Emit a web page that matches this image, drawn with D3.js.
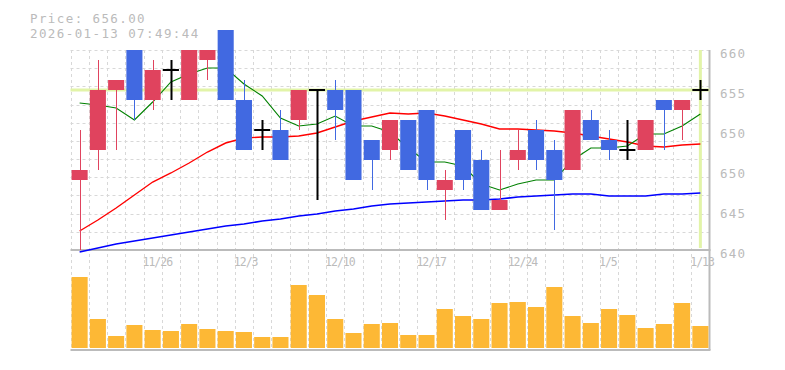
<!DOCTYPE html>
<html>
<head>
<meta charset="utf-8">
<script src="https://cdn.jsdelivr.net/npm/d3@7"></script>
<style>
  body { margin: 0; background: #fff; }
  svg { display: block; }
  text { font-family: "DejaVu Sans Mono", monospace; fill: #bbb; }
</style>
</head>
<body>
<svg id="chart" width="785" height="370"></svg>
<script>
// daily candles, last 35 sessions
var dates = ["11/19","11/20","11/21","11/25","11/26","11/27","11/28","12/1","12/2","12/3",
  "12/4","12/5","12/8","12/9","12/10","12/11","12/12","12/15","12/16","12/17",
  "12/18","12/19","12/22","12/23","12/24","12/25","12/26","12/29","12/30","1/5",
  "1/6","1/7","1/8","1/9","1/13"];
var open  = [647,650,656,660,655,658,655,659,662,655,652,652,653,656,656,656,651,650,653,654,646,652,649,644,649,652,650,648,653,651,650,650,655,654,656];
var close = [648,656,657,655,658,658,660,660,655,650,652,649,656,656,654,647,649,653,648,647,647,647,644,645,650,649,647,654,651,650,650,653,654,655,656];
var high  = [652,659,657,660,659,659,660,660,662,657,653,654,656,656,657,656,651,653,653,654,648,652,650,650,652,653,651,654,654,652,653,653,655,655,657];
var low   = [640,648,650,653,654,655,655,657,655,650,650,649,652,645,651,647,646,649,648,646,643,646,644,644,648,648,642,648,651,649,649,650,650,651,655];
var volume = [71,29,12,23,18,17,24,19,17,16,11,11,63,53,29,15,24,25,13,13,39,32,29,45,46,41,61,32,25,39,33,20,24,45,22];

// moving averages
var ma5  = [654.7,654.5,654.2,653.0,654.8,656.8,657.6,658.2,658.2,656.6,655.4,653.2,652.4,652.6,653.4,652.4,652.4,651.8,650.2,648.8,648.8,648.4,646.6,646.0,646.6,647.0,647.0,649.0,650.2,650.2,650.4,651.6,651.6,652.4,653.6];
var ma25 = [641.9,643.0,644.2,645.5,646.8,647.7,648.7,649.8,650.7,651.2,651.3,651.3,651.4,651.7,652.3,652.9,653.3,653.7,653.6,653.7,653.4,653.0,652.6,652.1,652.1,652.0,651.9,651.7,651.4,651.1,650.8,650.4,650.3,650.5,650.6];
var ma75 = [639.8,640.2,640.6,640.9,641.2,641.5,641.8,642.1,642.4,642.6,642.9,643.1,643.4,643.6,643.9,644.1,644.4,644.6,644.7,644.8,644.9,645.0,645.0,645.1,645.3,645.4,645.5,645.6,645.6,645.4,645.4,645.4,645.6,645.6,645.7];

var yTicks = [640,644,648,652,656,660];
var yTickLabels = ["640","645","650","650","655","660"];
var xTickDates = ["11/26","12/3","12/10","12/17","12/24","1/5","1/13"];

var lastPrice = 656.00;
var stamp = "2026-01-13 07:49:44";

var svg = d3.select("#chart");
var left = 70.5, right = 709.5;
var pTop = 50, pBottom = 250, vTop = 277, vBottom = 348, axisBottom = 350;

var x = d3.scaleBand()
    .domain(dates)
    .range([left, right])
    .paddingInner(0.12)
    .paddingOuter(0.06);
var step = x.step();
var cx = function(d) { return x(d) + x.bandwidth() / 2; };

var y = d3.scaleLinear().domain([640, 660]).range([pBottom, pTop]);
var yv = d3.scaleLinear().domain([0, d3.max(volume)]).range([vBottom, vTop]);

// header
svg.append("text").attr("x", 30).attr("y", 23).style("font-size", "12.5px").style("letter-spacing", "1.4px")
  .text("Price: " + lastPrice.toFixed(2));
svg.append("text").attr("x", 30).attr("y", 38).style("font-size", "12.5px").style("letter-spacing", "1.4px")
  .text(stamp);

// grid
var grid = svg.append("g").attr("stroke", "#d8d8d8").attr("stroke-dasharray", "3,3").attr("stroke-width", 1);
d3.range(11).forEach(function(k) {
  var gy = Math.round(pTop + k * (pBottom - pTop) / 11) + 0.5;
  grid.append("line").attr("x1", left).attr("x2", right).attr("y1", gy).attr("y2", gy);
});
d3.range(35).forEach(function(k) {
  var gx = Math.round(left + k * step) + 0.5;
  grid.append("line").attr("x1", gx).attr("x2", gx).attr("y1", pTop).attr("y2", axisBottom);
});

// axes lines
var ax = svg.append("g").attr("stroke", "#bbb").attr("stroke-width", 2);
ax.append("line").attr("x1", left).attr("x2", right + 1).attr("y1", pBottom).attr("y2", pBottom);
ax.append("line").attr("x1", left).attr("x2", right + 1).attr("y1", axisBottom).attr("y2", axisBottom);
ax.append("line").attr("x1", right).attr("x2", right).attr("y1", pTop).attr("y2", axisBottom);

// y labels
svg.append("g").selectAll("text")
  .data(yTicks)
  .enter().append("text")
    .attr("x", 720)
    .attr("y", function(d) { return y(d) + 3; })
    .attr("dominant-baseline", "central")
    .style("font-size", "12.5px")
    .style("letter-spacing", "1.2px")
    .text(function(d, i) { return yTickLabels[i]; });

// x labels
svg.append("g").selectAll("text")
  .data(xTickDates)
  .enter().append("text")
    .attr("x", function(d) { return left + dates.indexOf(d) * step - 1; })
    .attr("y", 266)
    .style("font-size", "11.5px")
    .style("letter-spacing", "-1px")
    .text(function(d) { return d; });

// current price cross
var last = dates[dates.length - 1];
svg.append("line").attr("x1", left).attr("x2", right).attr("y1", y(lastPrice)).attr("y2", y(lastPrice))
  .attr("stroke", "#e2f4a8").attr("stroke-width", 3);
svg.append("line").attr("x1", cx(last)).attr("x2", cx(last)).attr("y1", pTop).attr("y2", pBottom - 2)
  .attr("stroke", "#e2f4a8").attr("stroke-width", 3);

// moving averages
var maLine = function(vals) {
  return d3.line()
    .x(function(d, i) { return cx(dates[i]); })
    .y(function(d) { return y(d); })(vals);
};
svg.append("path").attr("d", maLine(ma75)).attr("fill", "none").attr("stroke", "#0000ff").attr("stroke-width", 1.6);
svg.append("path").attr("d", maLine(ma25)).attr("fill", "none").attr("stroke", "#ff0000").attr("stroke-width", 1.4);
svg.append("path").attr("d", maLine(ma5)).attr("fill", "none").attr("stroke", "#008000").attr("stroke-width", 1.1);

// candles
var candles = svg.append("g").selectAll("g")
  .data(dates)
  .enter().append("g");

var colorOf = function(i) {
  if (close[i] > open[i]) return "#e0435e";
  if (close[i] < open[i]) return "#4169e1";
  return "#000";
};

candles.append("line")
  .attr("x1", function(d) { return Math.round(cx(d)) + 0.5; })
  .attr("x2", function(d) { return Math.round(cx(d)) + 0.5; })
  .attr("y1", function(d, i) { return y(high[i]); })
  .attr("y2", function(d, i) { return y(low[i]); })
  .attr("stroke", function(d, i) { return colorOf(i); })
  .attr("stroke-width", function(d, i) { return open[i] === close[i] ? 2 : 1; });

candles.filter(function(d, i) { return open[i] !== close[i]; })
  .append("rect")
  .attr("x", function(d) { return x(d); })
  .attr("width", x.bandwidth())
  .attr("y", function(d) { var i = dates.indexOf(d); return y(Math.max(open[i], close[i])); })
  .attr("height", function(d) { var i = dates.indexOf(d); return Math.abs(y(open[i]) - y(close[i])); })
  .attr("fill", function(d) { return colorOf(dates.indexOf(d)); });

candles.filter(function(d, i) { return open[i] === close[i]; })
  .append("line")
  .attr("x1", function(d) { return x(d); })
  .attr("x2", function(d) { return x(d) + x.bandwidth(); })
  .attr("y1", function(d) { return y(close[dates.indexOf(d)]); })
  .attr("y2", function(d) { return y(close[dates.indexOf(d)]); })
  .attr("stroke", "#000")
  .attr("stroke-width", 2);

// volume
svg.append("g").selectAll("rect")
  .data(volume)
  .enter().append("rect")
    .attr("x", function(d, i) { return x(dates[i]); })
    .attr("width", x.bandwidth())
    .attr("y", function(d) { return yv(d); })
    .attr("height", function(d) { return vBottom - yv(d); })
    .attr("fill", "#fdb835");
</script>
</body>
</html>
